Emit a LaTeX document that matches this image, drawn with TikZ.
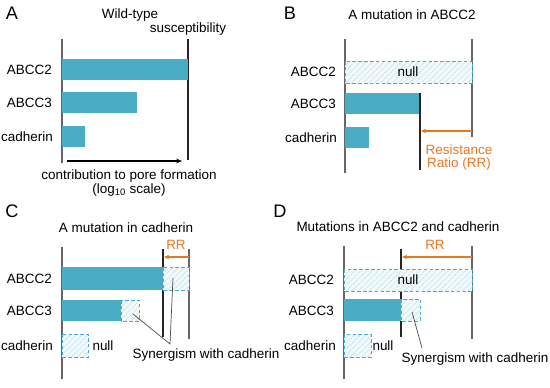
\documentclass[tikz,border=0pt]{standalone}
\usepackage{fontspec}
\setmainfont{Liberation Sans}
\usetikzlibrary{arrows.meta,patterns.meta}
\definecolor{barblue}{RGB}{75,172,198}
\definecolor{rrorange}{RGB}{232,119,34}

\begin{document}
\begin{tikzpicture}[x=0.03cm,y=-0.03cm,line width=0.3pt,
  axis/.style={draw=black!60,line width=0.9pt},
  rline/.style={draw=black!85,line width=1.1pt},
  bar/.style={fill=barblue,draw=none},
  nullbox/.style={draw=barblue,dash pattern=on 3pt off 2pt,line width=0.8pt,
    preaction={fill=barblue!7},pattern={Lines[angle=45,distance=3.5pt,line width=0.5pt]},
    pattern color=barblue!35},
  rrarrow/.style={draw=rrorange,line width=1pt,-{Stealth[length=4.5pt,width=4pt]}},
  lbl/.style={font=\fontsize{11.5}{13}\selectfont},
  rrlbl/.style={lbl,text=rrorange},
  panel/.style={font=\fontsize{15.5}{18}\selectfont},
  leader/.style={draw=black!70,line width=0.6pt}]
\useasboundingbox (0,0) rectangle (550,388);

% A: wild-type
\node[panel] (pA) at (12,13) {A};
\node[lbl] (wtA) at (130,15) {Wild-type};
\node[lbl] (susA) at (188,29) {susceptibility};
\draw[axis] (62,39) -- (62,163);
\draw[rline] (188,39) -- (188,160);
\fill[bar] (62,59) rectangle (188,80);
\fill[bar] (62,92) rectangle (137,113);
\fill[bar] (62,126) rectangle (85,147);
\node[lbl,anchor=east] (abcc2A) at (56,70) {ABCC2};
\node[lbl,anchor=east] (abcc3A) at (56,103) {ABCC3};
\node[lbl,anchor=east] (cadA) at (57,137) {cadherin};
\coordinate (axA0) at (67,161);
\coordinate (axA1) at (182,161);
\draw[line width=0.9pt,-{Stealth[length=5pt,width=4pt]}] (axA0) -- (axA1);
\node[lbl] (contribA) at (129,176) {contribution to pore formation};
\node[lbl] (logA) at (129,190) {(log\textsubscript{10} scale)};

% B: ABCC2 mutant
\node[panel] (pB) at (290,13) {B};
\node[lbl] (titleB) at (412,15) {A mutation in ABCC2};
\draw[axis] (345,39) -- (345,173);
\draw[axis] (472,39) -- (472,137);
\draw[nullbox] (345,61) rectangle (472,83);
\node[lbl] (nullB) at (408,72) {null};
\fill[bar] (345,93) rectangle (420,114);
\fill[bar] (345,127) rectangle (369,148);
\draw[rline] (420,93) -- (420,170);
\node[lbl,anchor=east] (abcc2B) at (340,72) {ABCC2};
\node[lbl,anchor=east] (abcc3B) at (340,104) {ABCC3};
\node[lbl,anchor=east] (cadB) at (341,138) {cadherin};
\coordinate (rrB0) at (472,131);
\coordinate (rrB1) at (421,131);
\draw[rrarrow] (rrB0) -- (rrB1);
\node[rrlbl] (resB) at (459,150) {Resistance};
\node[rrlbl] (ratioB) at (459,164) {Ratio (RR)};

% C: cadherin mutant
\node[panel] (pC) at (12,211) {C};
\node[lbl] (titleC) at (126,228) {A mutation in cadherin};
\draw[axis] (62,247) -- (62,379);
\draw[rline] (163,249) -- (163,337);
\draw[axis] (189,249) -- (189,339);
\fill[bar] (62,267) rectangle (163,290);
\draw[nullbox] (163,267) rectangle (189,290);
\fill[bar] (62,300) rectangle (121,321);
\draw[nullbox] (121,300) rectangle (139,321);
\draw[nullbox] (62,334) rectangle (88,357);
\node[lbl] (nullC) at (103,346) {null};
\coordinate (rrC0) at (189,257);
\coordinate (rrC1) at (164,257);
\draw[rrarrow] (rrC0) -- (rrC1);
\node[rrlbl] (rrC) at (176,245) {RR};
\node[lbl,anchor=east] (abcc2C) at (56,279) {ABCC2};
\node[lbl,anchor=east] (abcc3C) at (56,311) {ABCC3};
\node[lbl,anchor=east] (cadC) at (57,346) {cadherin};
\node[lbl] (synC) at (206,355) {Synergism with cadherin};
\coordinate (synCtip) at (170,344);
\coordinate (synC3) at (133,314);
\coordinate (synC2) at (173,278);
\draw[leader] (synC3) -- (synCtip) -- (synC2);

% D: double mutant
\node[panel] (pD) at (280,211) {D};
\node[lbl] (titleD) at (398,227) {Mutations in ABCC2 and cadherin};
\draw[axis] (344,246) -- (344,379);
\draw[axis] (472,246) -- (472,339);
\draw[rline] (401,249) -- (401,337);
\draw[nullbox] (344,269) rectangle (472,291);
\node[lbl] (nullD2) at (408,280) {null};
\fill[bar] (344,299) rectangle (401,321);
\draw[nullbox] (401,299) rectangle (420,321);
\draw[nullbox] (344,334) rectangle (371,357);
\node[lbl] (nullD) at (383,346) {null};
\coordinate (rrD0) at (472,257);
\coordinate (rrD1) at (402,257);
\draw[rrarrow] (rrD0) -- (rrD1);
\node[rrlbl] (rrD) at (435,245) {RR};
\node[lbl,anchor=east] (abcc2D) at (338,280) {ABCC2};
\node[lbl,anchor=east] (abcc3D) at (338,311) {ABCC3};
\node[lbl,anchor=east] (cadD) at (340,346) {cadherin};
\node[lbl] (synD) at (475,359) {Synergism with cadherin};
\coordinate (synD3) at (412,312);
\coordinate (synDtip) at (422,348);
\draw[leader] (synD3) -- (synDtip);
\end{tikzpicture}
\end{document}
